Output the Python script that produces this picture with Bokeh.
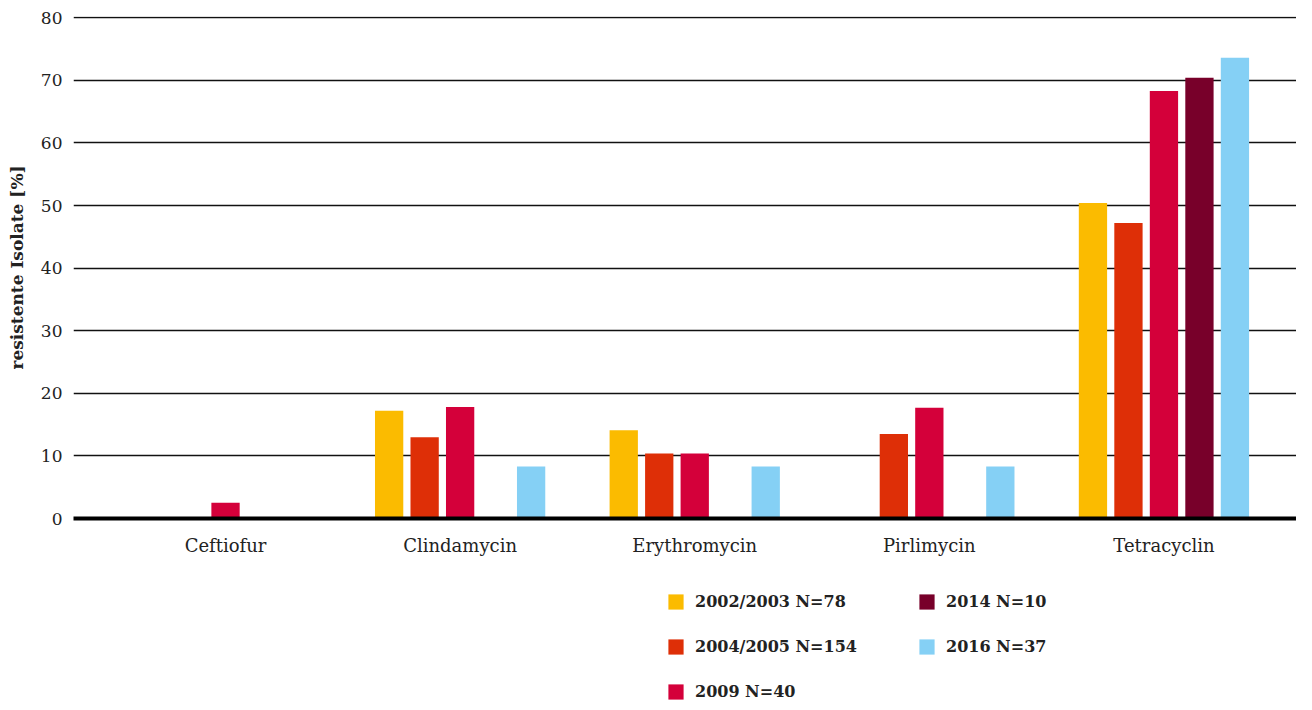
import numpy as np
from bokeh.plotting import figure
from bokeh.layouts import column
from bokeh.models import ColumnDataSource, FixedTicker, Range1d, Legend, LegendItem
from bokeh.embed import file_html
from bokeh.resources import INLINE

# ---- data ----
categories = ["Ceftiofur", "Clindamycin", "Erythromycin", "Pirlimycin", "Tetracyclin"]
series_labels = ["2002/2003 N=78", "2004/2005 N=154", "2009 N=40", "2014 N=10", "2016 N=37"]
v_2002 = [0.0, 17.2, 14.1, 0.0, 50.4]
v_2004 = [0.0, 13.0, 10.4, 13.5, 47.2]
v_2009 = [2.5, 17.8, 10.4, 17.7, 68.3]
v_2014 = [0.0, 0.0, 0.0, 0.0, 70.4]
v_2016 = [0.0, 8.3, 8.3, 8.3, 73.6]
series_values = [v_2002, v_2004, v_2009, v_2014, v_2016]
colors = ["#fbbb00", "#de2f07", "#d4003a", "#78002a", "#85d0f5"]
y_ticks = [0, 10, 20, 30, 40, 50, 60, 70, 80]

FONT = "DejaVu Serif"
BAR_W = 0.1206
STEP = 0.1513

p = figure(width=1296, height=564,
           x_range=Range1d(-0.648, 4.565), y_range=Range1d(0, 80.2),
           output_backend="svg", toolbar_location=None,
           min_border_left=73, min_border_right=0,
           min_border_top=16, min_border_bottom=46)
p.outline_line_color = None
p.background_fill_color = "white"
p.border_fill_color = "white"

# grid
p.xgrid.visible = False
p.ygrid.ticker = FixedTicker(ticks=y_ticks)
p.ygrid.grid_line_color = "#111111"
p.ygrid.grid_line_width = 1.4

# y axis
p.yaxis.ticker = FixedTicker(ticks=y_ticks)
p.yaxis.axis_line_color = None
p.yaxis.major_tick_line_color = None
p.yaxis.minor_tick_line_color = None
p.yaxis.major_tick_out = 0
p.yaxis.major_tick_in = 0
p.yaxis.minor_tick_out = 0
p.yaxis.major_label_standoff = 11
p.yaxis.major_label_text_font = FONT
p.yaxis.major_label_text_font_size = "17px"
p.yaxis.major_label_text_color = "#222222"
p.yaxis.axis_label = "resistente Isolate [%]"
p.yaxis.axis_label_text_font = FONT
p.yaxis.axis_label_text_font_size = "17px"
p.yaxis.axis_label_text_font_style = "bold"
p.yaxis.axis_label_text_color = "#222222"
p.yaxis.axis_label_standoff = 11

# x axis
n = len(categories)
p.xaxis.ticker = FixedTicker(ticks=list(range(n)))
p.xaxis.major_label_overrides = {i: c for i, c in enumerate(categories)}
p.xaxis.axis_line_color = "black"
p.xaxis.axis_line_width = 4
p.xaxis.major_tick_line_color = None
p.xaxis.minor_tick_line_color = None
p.xaxis.major_tick_out = 0
p.xaxis.major_tick_in = 0
p.xaxis.minor_tick_out = 0
p.xaxis.major_label_standoff = 16
p.xaxis.major_label_text_font = FONT
p.xaxis.major_label_text_font_size = "18px"
p.xaxis.major_label_text_color = "#222222"

# bars
for i, (vals, col) in enumerate(zip(series_values, colors)):
    xs = np.arange(n) + (i - 2) * STEP
    src = ColumnDataSource(dict(x=xs, top=vals))
    p.vbar(x="x", top="top", bottom=0, width=BAR_W, source=src,
           fill_color=col, line_color=None)

# legend figure (below the chart)
lf = figure(width=1296, height=138, x_range=Range1d(0, 1), y_range=Range1d(0, 1),
            output_backend="svg", toolbar_location=None,
            x_axis_type=None, y_axis_type=None,
            min_border_left=73, min_border_right=0, min_border_top=0, min_border_bottom=0)
lf.outline_line_color = None
lf.xgrid.visible = False
lf.ygrid.visible = False
items = []
for lab, col in zip(series_labels, colors):
    # proxy glyph with no drawable extent, only used for the legend swatch
    r = lf.vbar(x=[0.5], top=[np.nan], bottom=[np.nan], width=0.1,
                fill_color=col, line_color=None)
    items.append(LegendItem(label=lab, renderers=[r]))

legend = Legend(items=items, location=(593, 1), orientation="vertical", nrows=3,
                glyph_width=19, glyph_height=19, label_standoff=10, label_height=19,
                label_width=196, spacing=26, padding=0, margin=0,
                border_line_color=None, background_fill_alpha=0,
                label_text_font=FONT, label_text_font_size="16px",
                label_text_font_style="bold", label_text_color="#222222")
lf.add_layout(legend, "center")

layout = column(p, lf, spacing=0)
open("out.html", "w").write(file_html(layout, INLINE))
